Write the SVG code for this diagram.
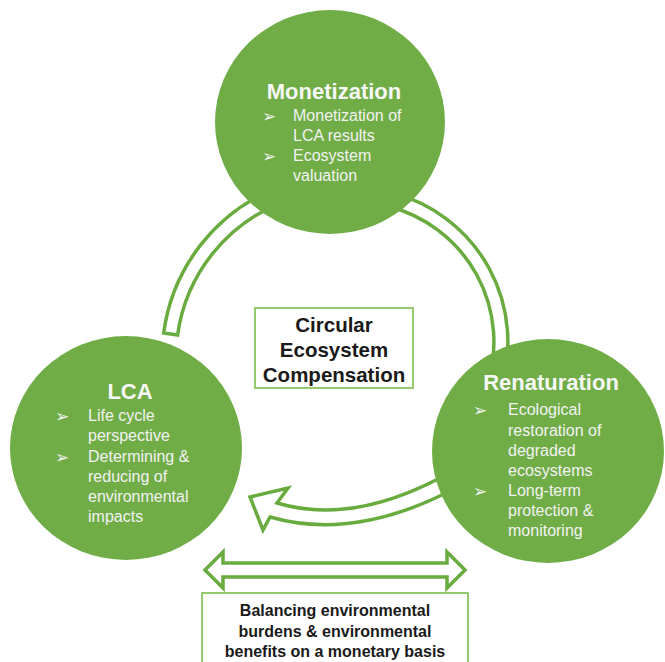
<svg xmlns="http://www.w3.org/2000/svg" width="665" height="662" viewBox="0 0 665 662">
<style>
.arrow{fill:#ffffff;stroke:#6aab3f;stroke-width:3.5;stroke-linejoin:miter}
.node{fill:#70ad47}
.title{font-family:"Liberation Sans",Arial,sans-serif;font-weight:bold;font-size:22px;fill:#f7f7f7;text-anchor:middle}
.body{font-family:"Liberation Sans",Arial,sans-serif;font-size:16px;fill:#f2f2f2}
.bul{font-family:"DejaVu Sans",sans-serif;font-size:17px;fill:#f2f2f2}
.box{fill:#ffffff;stroke:#92c971;stroke-width:2}
.btxt{font-family:"Liberation Sans",Arial,sans-serif;font-weight:bold;fill:#1a1a1a;text-anchor:middle}
</style>
<rect width="665" height="662" fill="#ffffff"/>
<g id="connectors">
<path class="arrow" d="M 163.7 333 A 182 182 0 0 1 279 187 L 284.5 201.5 A 167 167 0 0 0 177.6 335 Z"/>
<path class="arrow" d="M 392.5 192.9 A 154 154 0 0 1 500.3 389.7 L 487 385.4 A 140 140 0 0 0 389 206.5 Z"/>
<path class="arrow" d="M 440 478 Q 350 525 277 503 L 288 488 L 250 497 L 263 530 L 270 517 Q 350 540 444 494"/>
<path class="arrow" d="M 205 570 L 223 552 L 223 563 L 447 563 L 447 552 L 465 570 L 447 588 L 447 577 L 223 577 L 223 588 Z"/>
</g>
<g id="monetization">
<ellipse class="node" cx="330" cy="122" rx="115" ry="112"/>
<text class="title" x="334" y="99">Monetization</text>
<text class="bul" x="262" y="122">➢</text>
<text class="body" x="293" y="121">Monetization of</text>
<text class="body" x="293" y="141">LCA results</text>
<text class="bul" x="262" y="162">➢</text>
<text class="body" x="293" y="161">Ecosystem</text>
<text class="body" x="293" y="181">valuation</text>
</g>
<g id="lca">
<ellipse class="node" cx="126" cy="448" rx="116" ry="112"/>
<text class="title" x="130" y="399">LCA</text>
<text class="bul" x="55" y="422">➢</text>
<text class="body" x="88" y="421">Life cycle</text>
<text class="body" x="88" y="441">perspective</text>
<text class="bul" x="55" y="463">➢</text>
<text class="body" x="88" y="462">Determining &amp;</text>
<text class="body" x="88" y="482">reducing of</text>
<text class="body" x="88" y="502">environmental</text>
<text class="body" x="88" y="522">impacts</text>
</g>
<g id="renaturation">
<ellipse class="node" cx="548" cy="451" rx="116" ry="112"/>
<text class="title" x="551" y="390">Renaturation</text>
<text class="bul" x="473" y="416">➢</text>
<text class="body" x="508" y="415">Ecological</text>
<text class="body" x="508" y="436">restoration of</text>
<text class="body" x="508" y="456">degraded</text>
<text class="body" x="508" y="476">ecosystems</text>
<text class="bul" x="473" y="497">➢</text>
<text class="body" x="508" y="496">Long-term</text>
<text class="body" x="508" y="516">protection &amp;</text>
<text class="body" x="508" y="536">monitoring</text>
</g>
<g id="center-box">
<rect class="box" x="255" y="308" width="158" height="80"/>
<text class="btxt" x="334" y="332" font-size="20.5">Circular</text>
<text class="btxt" x="334" y="357" font-size="20.5">Ecosystem</text>
<text class="btxt" x="334" y="382" font-size="20.5">Compensation</text>
</g>
<g id="balance-box">
<rect class="box" x="202" y="593" width="266" height="75"/>
<text class="btxt" x="335" y="616" font-size="16">Balancing environmental</text>
<text class="btxt" x="335" y="636.5" font-size="16">burdens &amp; environmental</text>
<text class="btxt" x="335" y="657" font-size="16">benefits on a monetary basis</text>
</g>
</svg>
